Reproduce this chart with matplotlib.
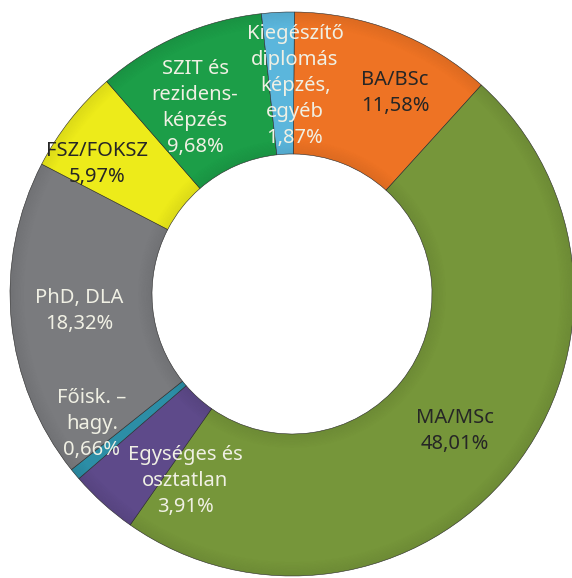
import numpy as np
import matplotlib
matplotlib.use("Agg")
from matplotlib import pyplot as plt
from matplotlib.patches import Wedge

# adatok
labels = ["BA/BSc", "MA/MSc", "Egységes és\nosztatlan", "Főisk. –\nhagy.",
          "PhD, DLA", "FSZ/FOKSZ", "SZIT és\nrezidens-\nképzés",
          "Kiegészítő\ndiplomás\nképzés,\negyéb"]
shares = [11.58, 48.01, 3.91, 0.66, 18.32, 5.97, 9.68, 1.87]
colors = ["#EE7324", "#76963A", "#5E4A8A", "#2C8EA6",
          "#7A7B7E", "#EDEB1A", "#1C9E48", "#5BB6DC"]
text_colors = ["#262626", "#262626", "#F0F0E4", "#F0F0E4",
               "#F0F0E4", "#262626", "#F0F0E4", "#F0F0E4"]
# felirat helye pixelben (kép bal felső sarkától)
label_pos = [(395, 93), (455, 431), (185, 481), (92, 424),
             (79, 311), (97, 164), (195, 108), (295, 86)]

W, H = 572, 578
cx, cy, R = 292, 294, 282
ring = 142

fig = plt.figure(figsize=(W / 100, H / 100), dpi=100)
ax = fig.add_axes([0, 0, 1, 1])

wedges, _ = ax.pie(shares, colors=colors, startangle=89.5, counterclock=False,
                   radius=R, center=(cx, H - cy),
                   wedgeprops=dict(width=ring, edgecolor="#2a2a2a", linewidth=0.4))

# kis "3D" árnyék a gyűrű szélein
for k in range(12):
    a = 0.07 * (1 - k / 12)
    ax.add_patch(Wedge((cx, H - cy), R - k * 1.2, 0, 360, width=1.2,
                       facecolor="black", alpha=a, linewidth=0))
    ax.add_patch(Wedge((cx, H - cy), R - ring + (k + 1) * 1.2, 0, 360, width=1.2,
                       facecolor="black", alpha=a, linewidth=0))

for i, lab in enumerate(labels):
    txt = lab + "\n" + ("%.2f%%" % shares[i]).replace(".", ",")
    x, y = label_pos[i]
    ax.text(x, H - y, txt, ha="center", va="center", fontsize=14.5,
            color=text_colors[i], linespacing=1.4,
            family=["Noto Sans", "DejaVu Sans"])

ax.set_xlim(0, W)
ax.set_ylim(0, H)
ax.set_aspect("auto")
ax.axis("off")

fig.savefig("out.png", dpi=100)
